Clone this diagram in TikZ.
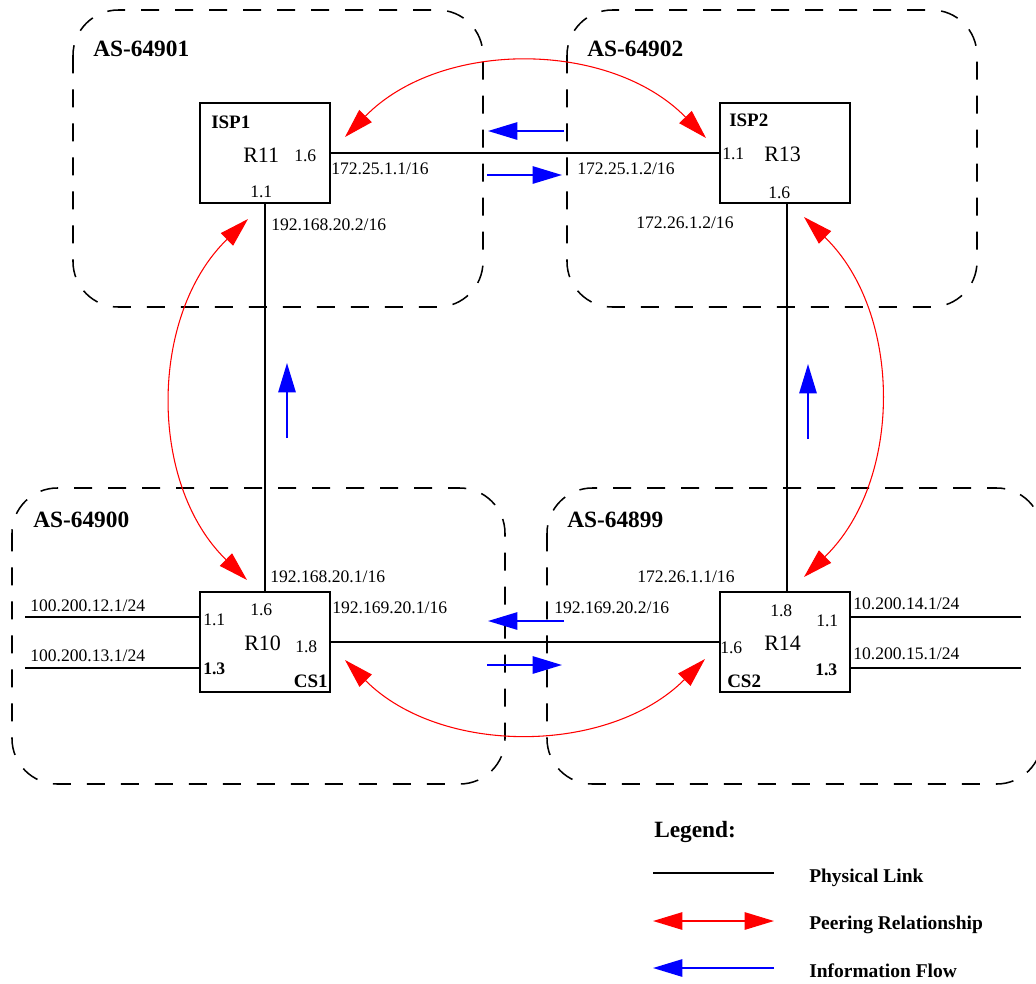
\documentclass[tikz,border=0pt]{standalone}
\usepackage{fontspec}
\setmainfont{Liberation Serif}
\usetikzlibrary{arrows.meta}
\tikzset{
  asbox/.style={draw=black, line width=1.15pt, dash pattern=on 13.5pt off 12pt, rounded corners=34pt},
  router/.style={draw=black, line width=1.3pt, minimum width=97.5pt, minimum height=75pt, inner sep=0pt},
  phys/.style={draw=black, line width=1.3pt},
  peer/.style={draw=red, line width=0.8pt, {Triangle[length=22pt,width=13pt]}-{Triangle[length=22pt,width=13pt]}},
  flow/.style={draw=blue, line width=1.3pt, -{Triangle[length=22pt,width=13pt]}},
  lbl/.style={anchor=base west, inner sep=0pt, font=\fontsize{13.2pt}{15pt}\selectfont},
  blbl/.style={anchor=base west, inner sep=0pt, font=\fontsize{13.2pt}{15pt}\selectfont\bfseries},
  rname/.style={anchor=base west, inner sep=0pt, font=\fontsize{16.5pt}{18pt}\selectfont},
  tag/.style={anchor=base west, inner sep=0pt, font=\fontsize{14.25pt}{16pt}\selectfont\bfseries},
  astitle/.style={anchor=base west, inner sep=0pt, font=\fontsize{17.5pt}{20pt}\selectfont\bfseries},
  legtxt/.style={anchor=base west, inner sep=0pt, font=\fontsize{14.6pt}{17pt}\selectfont\bfseries}
}
\begin{document}
\begin{tikzpicture}[x=0.75pt,y=-0.75pt]
\useasboundingbox (0,0) rectangle (1036,983);

% AS regions
\draw[asbox] (73,10) rectangle (483,307);
\draw[asbox] (567,10) rectangle (977,307);
\draw[asbox] (12,488) rectangle (505,784);
\draw[asbox] (547,488) rectangle (1042,784);

\node[astitle] (as1) at (93,56) {AS-64901};
\node[astitle] (as2) at (587,56) {AS-64902};
\node[astitle] (as0) at (33,527) {AS-64900};
\node[astitle] (as9) at (567,527) {AS-64899};

% routers
\node[router] (R11) at (265,153) {};
\node[router] (R13) at (785,153) {};
\node[router] (R10) at (265,642) {};
\node[router] (R14) at (785,642) {};

% physical links
\draw[phys] (R11.east) -- (R13.west);
\draw[phys] (R11.south) -- (R10.north);
\draw[phys] ([xshift=1.5pt]R13.south) -- ([xshift=1.5pt]R14.north);
\draw[phys] (R10.east) -- (R14.west);
\coordinate (l1) at (25,617);
\coordinate (l2) at (25,668);
\coordinate (r1) at (1021,617);
\coordinate (r2) at (1021,668);
\draw[phys] (l1) -- (l1 -| R10.west);
\draw[phys] (l2) -- (l2 -| R10.west);
\draw[phys] (r1) -- (r1 -| R14.east);
\draw[phys] (r2) -- (r2 -| R14.east);

% R11 labels
\node[tag] (t11) at (211,128) {ISP1};
\node[rname] (n11) at (243,162) {R11};
\node[lbl] (a11) at (294,161) {1.6};
\node[lbl] (b11) at (250,197) {1.1};
\node[lbl] (ip1) at (331,174) {172.25.1.1/16};
\node[lbl] (ip2) at (271,230) {192.168.20.2/16};

% R13 labels
\node[tag] (t13) at (729,126) {ISP2};
\node[rname] (n13) at (764,161) {R13};
\node[lbl] (a13) at (722,159) {1.1};
\node[lbl] (b13) at (768,198) {1.6};
\node[lbl] (ip3) at (577,174) {172.25.1.2/16};
\node[lbl] (ip4) at (636,228) {172.26.1.2/16};

% R10 labels
\node[rname] (n10) at (244,650) {R10};
\node[lbl] (a10) at (203,625) {1.1};
\node[lbl] (b10) at (250,615) {1.6};
\node[lbl] (c10) at (295,652) {1.8};
\node[blbl] (d10) at (203,674) {1.3};
\node[tag, anchor=base east] (t10) at (328,687) {CS1};
\node[lbl] (ip5) at (270,582) {192.168.20.1/16};
\node[lbl] (ip6) at (332,613) {192.169.20.1/16};
\node[lbl] (ip7) at (30,611) {100.200.12.1/24};
\node[lbl] (ip8) at (30,661) {100.200.13.1/24};

% R14 labels
\node[rname] (n14) at (764,650) {R14};
\node[lbl] (a14) at (770,616) {1.8};
\node[lbl] (b14) at (816,626) {1.1};
\node[lbl] (c14) at (720,653) {1.6};
\node[blbl] (d14) at (815,675) {1.3};
\node[tag] (t14) at (727,687) {CS2};
\node[lbl] (ip9) at (637,582) {172.26.1.1/16};
\node[lbl] (ip10) at (554,613) {192.169.20.2/16};
\node[lbl] (ip11) at (853,609) {10.200.14.1/24};
\node[lbl] (ip12) at (853,659) {10.200.15.1/24};

% peering relationships
\coordinate (pa1) at (345,137);
\coordinate (pa2) at (706,138);
\coordinate (pb1) at (248,219);
\coordinate (pb2) at (247,580);
\coordinate (pc1) at (804,217);
\coordinate (pc2) at (804,577);
\coordinate (pd1) at (345,660);
\coordinate (pd2) at (705,659);
\draw[peer] (pa1) .. controls (441,39) and (610,40) .. (pa2);
\draw[peer] (pb1) .. controls (149,315) and (148,484) .. (pb2);
\draw[peer] (pc1) .. controls (903,313) and (903,481) .. (pc2);
\draw[peer] (pd1) .. controls (441,756) and (609,755) .. (pd2);

% information flow
\coordinate (f1s) at (564,131); \coordinate (f1e) at (488,131);
\coordinate (f2s) at (487,175); \coordinate (f2e) at (562,175);
\coordinate (f3s) at (564,621); \coordinate (f3e) at (488,621);
\coordinate (f4s) at (487,665); \coordinate (f4e) at (562,665);
\coordinate (f5s) at (287,438); \coordinate (f5e) at (287,363);
\coordinate (f6s) at (808,439); \coordinate (f6e) at (808,364);
\draw[flow] (f1s) -- (f1e);
\draw[flow] (f2s) -- (f2e);
\draw[flow] (f3s) -- (f3e);
\draw[flow] (f4s) -- (f4e);
\draw[flow] (f5s) -- (f5e);
\draw[flow] (f6s) -- (f6e);

% legend
\node[astitle] (leg) at (654,837) {Legend:};
\coordinate (g1a) at (653,873); \coordinate (g1b) at (774,873);
\coordinate (g2a) at (653,921); \coordinate (g2b) at (774,921);
\coordinate (g3a) at (653,968); \coordinate (g3b) at (774,968);
\draw[phys] (g1a) -- (g1b);
\draw[peer, line width=1.3pt] (g2a) -- (g2b);
\draw[flow] (g3b) -- (g3a);
\node[legtxt] (lt1) at (809,882) {Physical Link};
\node[legtxt] (lt2) at (809,929) {Peering Relationship};
\node[legtxt] (lt3) at (809,977) {Information Flow};
\end{tikzpicture}
\end{document}
